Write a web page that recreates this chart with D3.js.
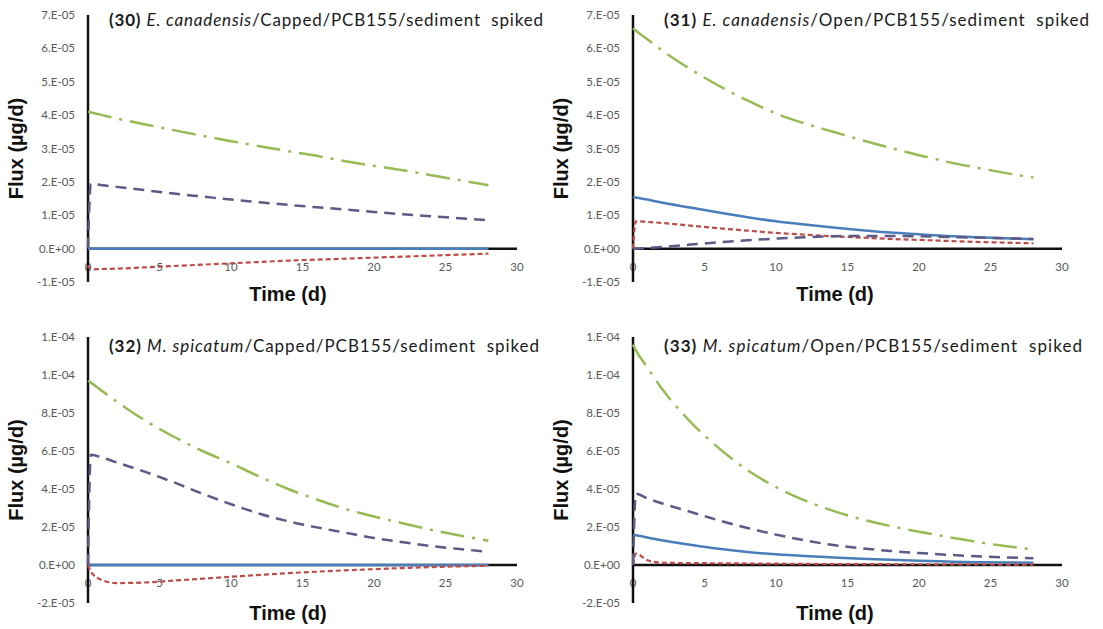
<!DOCTYPE html>
<html><head><meta charset="utf-8">
<script src="https://cdn.jsdelivr.net/npm/d3@7"></script>
<style>body{margin:0;background:#fff}</style></head>
<body>
<svg id="c" width="1103" height="629"></svg>
<script>
// ---- data (flux in units of 1e-5 µg/d) ----
const days = [0, 0.2, 1, 2, 4, 6, 8, 10, 12, 14, 16, 18, 20, 22, 24, 26, 28];

const p30Blue   = [0,0,0,0,0,0,0,0,0,0,0,0,0,0,0,0,0];
const p30Red    = [-0.5,-0.62,-0.61,-0.6,-0.56,-0.52,-0.48,-0.44,-0.4,-0.36,-0.33,-0.3,-0.27,-0.24,-0.21,-0.18,-0.15];
const p30Purple = [0,1.95,1.9,1.85,1.75,1.65,1.56,1.47,1.39,1.31,1.24,1.17,1.1,1.03,0.97,0.91,0.85];
const p30Green  = [4.1,4.08,4.0,3.9,3.72,3.55,3.38,3.22,3.07,2.92,2.78,2.62,2.48,2.35,2.2,2.05,1.9];

const p31Blue   = [1.55,1.53,1.47,1.38,1.23,1.08,0.94,0.82,0.72,0.63,0.55,0.48,0.43,0.38,0.34,0.31,0.28];
const p31Red    = [0,0.82,0.8,0.77,0.69,0.61,0.54,0.47,0.42,0.37,0.33,0.29,0.26,0.23,0.2,0.18,0.16];
const p31Purple = [0,0,0.02,0.05,0.12,0.19,0.25,0.3,0.34,0.37,0.38,0.38,0.37,0.35,0.33,0.31,0.29];
const p31Green  = [6.6,6.53,6.27,5.95,5.38,4.88,4.44,4.05,3.75,3.5,3.25,3.02,2.8,2.6,2.43,2.27,2.13];

const p32Blue   = [0,0,0,0,0,0,0,0,0,0,0,0,0,0,0,0,0];
const p32Red    = [0,-0.35,-0.8,-0.95,-0.92,-0.82,-0.72,-0.62,-0.52,-0.43,-0.35,-0.28,-0.22,-0.16,-0.11,-0.07,-0.04];
const p32Purple = [0,5.8,5.65,5.4,4.9,4.35,3.75,3.2,2.7,2.3,1.98,1.7,1.42,1.2,1.0,0.84,0.7];
const p32Green  = [9.7,9.6,9.15,8.6,7.6,6.75,6.0,5.35,4.65,4.0,3.45,2.95,2.55,2.2,1.85,1.55,1.28];

const p33Blue   = [1.6,1.57,1.45,1.3,1.06,0.85,0.68,0.56,0.47,0.4,0.33,0.27,0.22,0.18,0.15,0.13,0.12];
const p33Red    = [0,0.6,0.25,0.12,0.1,0.09,0.08,0.07,0.06,0.05,0.05,0.04,0.04,0.03,0.03,0.02,0.02];
const p33Purple = [0,3.75,3.5,3.25,2.8,2.35,1.95,1.6,1.3,1.05,0.88,0.74,0.63,0.54,0.46,0.4,0.35];
const p33Green  = [11.6,11.3,10.4,9.3,7.55,6.15,5.0,4.1,3.4,2.85,2.4,2.05,1.75,1.48,1.22,1.0,0.82];

const xTickValues = [0, 5, 10, 15, 20, 25, 30];
const topYTickValues = [-1, 0, 1, 2, 3, 4, 5, 6, 7];
const topYTickLabels = ["-1.E-05","0.E+00","1.E-05","2.E-05","3.E-05","4.E-05","5.E-05","6.E-05","7.E-05"];
const botYTickValues = [-2, 0, 2, 4, 6, 8, 10, 12];
const botYTickLabels = ["-2.E-05","0.E+00","2.E-05","4.E-05","6.E-05","8.E-05","1.E-04","1.E-04"];

const titleNums   = ["(30)", "(31)", "(32)", "(33)"];
const titleSpecies = ["E. canadensis", "E. canadensis", "M. spicatum", "M. spicatum"];
const titleRest   = ["/Capped/PCB155/sediment\u00a0\u00a0spiked", "/Open/PCB155/sediment\u00a0\u00a0spiked",
                     "/Capped/PCB155/sediment\u00a0\u00a0spiked", "/Open/PCB155/sediment\u00a0\u00a0spiked"];

// ---- layout ----
const svg = d3.select("#c");
const colors = {blue:"#4a7ebb", red:"#be4b48", purple:"#5d5a85", green:"#98b954"};
const dash = {blue:null, red:"5,3", purple:"11,7", green:"24,8,3,8"};
const widths = {blue:2.5, red:2.2, purple:2.5, green:2.5};

const panels = [
  {i:0, x0:88,  x1:517,  yTop:15,  yBot:282, dom:[-1,7],  tv:topYTickValues, tl:topYTickLabels,
   series:{blue:p30Blue, red:p30Red, purple:p30Purple, green:p30Green}, tx:109, tLen:434, ty:21, lx:16, timeX:288, timeY:300},
  {i:1, x0:633, x1:1062, yTop:15,  yBot:282, dom:[-1,7],  tv:topYTickValues, tl:topYTickLabels,
   series:{blue:p31Blue, red:p31Red, purple:p31Purple, green:p31Green}, tx:664, tLen:425, ty:21, lx:561, timeX:835, timeY:300},
  {i:2, x0:88,  x1:517,  yTop:337, yBot:603, dom:[-2,12], tv:botYTickValues, tl:botYTickLabels,
   series:{blue:p32Blue, red:p32Red, purple:p32Purple, green:p32Green}, tx:109, tLen:430, ty:347, lx:16, timeX:288, timeY:619},
  {i:3, x0:633, x1:1062, yTop:337, yBot:603, dom:[-2,12], tv:botYTickValues, tl:botYTickLabels,
   series:{blue:p33Blue, red:p33Red, purple:p33Purple, green:p33Green}, tx:664, tLen:418, ty:347, lx:561, timeX:835, timeY:619}
];

panels.forEach(p => {
  const g = svg.append("g");
  const x = d3.scaleLinear().domain([0, 30]).range([p.x0, p.x1]);
  const y = d3.scaleLinear().domain(p.dom).range([p.yBot, p.yTop]);
  const y0 = y(0);

  // y tick labels
  g.selectAll(".yt").data(p.tv).enter().append("text")
    .attr("x", p.x0 - 13).attr("y", d => y(d)).attr("dy", "0.35em")
    .attr("text-anchor", "end").attr("font-family", "Lato, 'Liberation Sans', sans-serif")
    .attr("font-size", 11.5).attr("fill", "#595959")
    .text((d, k) => p.tl[k]);

  // x tick labels
  g.selectAll(".xt").data(xTickValues).enter().append("text")
    .attr("x", d => x(d)).attr("y", y0 + 18).attr("dy", "0.35em")
    .attr("text-anchor", "middle").attr("font-family", "Lato, 'Liberation Sans', sans-serif")
    .attr("font-size", 11.5).attr("fill", "#595959")
    .text(d => d);

  // axes
  g.append("line").attr("x1", p.x0).attr("x2", p.x0).attr("y1", p.yTop).attr("y2", p.yBot)
    .attr("stroke", "#111").attr("stroke-width", 2.5);
  g.append("line").attr("x1", p.x0).attr("x2", p.x1).attr("y1", y0).attr("y2", y0)
    .attr("stroke", "#111").attr("stroke-width", 2.5);

  // series
  const line = d3.line().x(d => x(d[0])).y(d => y(d[1])).curve(d3.curveMonotoneX);
  ["blue", "red", "purple", "green"].forEach(k => {
    g.append("path").datum(d3.zip(days, p.series[k]))
      .attr("d", line).attr("fill", "none")
      .attr("stroke", colors[k]).attr("stroke-width", widths[k])
      .attr("stroke-dasharray", dash[k]);
  });

  // title
  const t = g.append("text").attr("x", p.tx).attr("y", p.ty + 5)
    .attr("font-family", "Lato, 'Open Sans', sans-serif").attr("font-size", 17).attr("fill", "#1a1a1a")
    .attr("textLength", p.tLen).attr("lengthAdjust", "spacing");
  t.append("tspan").attr("font-weight", "bold").text(titleNums[p.i]);
  t.append("tspan").text(" ");
  t.append("tspan").attr("font-style", "italic").text(titleSpecies[p.i]);
  t.append("tspan").text(titleRest[p.i]);

  // axis titles
  g.append("text").attr("transform", `translate(${p.lx},${(p.yTop + p.yBot) / 2}) rotate(-90)`)
    .attr("text-anchor", "middle").attr("dy", "0.35em")
    .attr("font-family", "'Liberation Sans', Arial, sans-serif").attr("font-weight", "bold")
    .attr("font-size", 20).attr("fill", "#111").text("Flux (µg/d)");
  g.append("text").attr("x", p.timeX).attr("y", p.timeY - 6).attr("dy", "0.35em")
    .attr("text-anchor", "middle")
    .attr("font-family", "'Liberation Sans', Arial, sans-serif").attr("font-weight", "bold")
    .attr("font-size", 20).attr("fill", "#111").text("Time (d)");
});
</script>
</body></html>
